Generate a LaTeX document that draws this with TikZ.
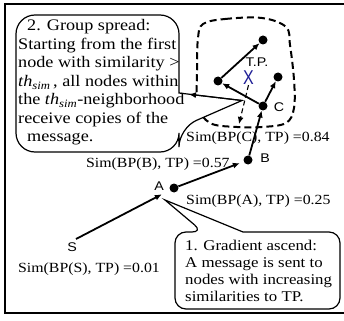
\documentclass[tikz,border=0pt]{standalone}
\usepackage{fontspec}
\setmainfont{Liberation Serif}[FakeStretch=1.13]
\newfontfamily\arial{Liberation Sans}[FakeStretch=1.13]
\newfontfamily\xfont{Liberation Sans}[FakeStretch=0.8]
\usetikzlibrary{arrows.meta}
\definecolor{tpblue}{RGB}{30,30,150}
\begin{document}
\begin{tikzpicture}[x=1pt,y=-1pt,
  dot/.style={circle,fill=black,inner sep=0pt,minimum size=9pt},
  arr/.style={line width=1.8pt,-{Latex[length=7pt,width=6pt]}},
  thinarr/.style={line width=1.1pt,-{Latex[length=7pt,width=6pt]}},
  lbl/.style={font=\arial\fontsize{12.6}{13}\selectfont,inner sep=0pt},
  sim/.style={font=\fontsize{14}{16}\selectfont,inner sep=0pt,anchor=base west},
  ctwo/.style={font=\fontsize{16.1}{18}\selectfont,inner sep=0pt,anchor=base west},
  cone/.style={font=\fontsize{14.9}{17}\selectfont,inner sep=0pt,anchor=base west},
  call/.style={line width=1.2pt},
  blob/.style={line width=2pt,dash pattern=on 7pt off 4pt}
]
\useasboundingbox (0,0) rectangle (344,320);
\clip (0,0) rectangle (344,320);
\fill[white] (0,0) rectangle (344,320);
\draw[line width=2pt] (5,3.7) rectangle (400,313);

% dashed neighborhood
\draw[blob] plot[smooth cycle,tension=0.6] coordinates {(203,24) (225,19) (262,18) (286,27) (290,45) (294,80) (294,108) (286,123) (262,127) (237,127) (210,123) (198,105) (197,70) (198,38)};

% callout 2
\draw[call,fill=white] (179,50) [rounded corners=19pt] -- (179,15) -- (16,15) -- (16,152) -- (179,152) -- (179,128) [sharp corners] -- (242,100.5) -- (179,93) -- cycle;
\coordinate (tip2) at (242,100.5);
\coordinate (lefthit) at (189,94.3);
\coordinate (bothit) at (239,124);

% callout 1
\draw[call,fill=white] (290,232) [rounded corners=11pt] -- (340,232) -- (340,309) -- (175,309) -- (175,232) -- (203,232) [sharp corners] -- (165,200) -- (243,232) -- cycle;

% nodes
\coordinate (S) at (76,239);
\node[dot] (A) at (174,188) {};
\node[dot] (B) at (248,160) {};
\node[dot] (C) at (263,106) {};
\node[dot] (L) at (218,81) {};
\node[dot] (T) at (263,40) {};
\node[dot] (R) at (278,77) {};
\node[text=tpblue,font=\xfont\fontsize{20}{20}\selectfont,inner sep=0pt] (X) at (248.5,78) {X};

% arrows
\draw[arr,shorten >=9pt] (S) -- (A);
\draw[arr,shorten >=4pt] (A) -- (B);
\draw[arr] (B) -- (C);
\draw[arr] (C) -- (L);
\draw[arr] (L) -- (T);
\draw[arr] (C) -- (R);
\draw[thinarr] (tip2) -- (lefthit);
\draw[thinarr,dashed,dash pattern=on 5pt off 3pt] (X.south) -- (bothit);

% sans labels
\node[lbl] (lS) at (72,247) {S};
\node[lbl] (lA) at (159,186) {A};
\node[lbl] (lB) at (265,158) {B};
\node[lbl] (lC) at (279,107) {C};
\node[lbl] (lTP) at (257,62) {T.P.};

% similarity labels
\node[sim] (sC) at (186,142) {Sim(BP(C), TP) =0.84};
\node[sim] (sB) at (86,167) {Sim(BP(B), TP) =0.57};
\node[sim] (sA) at (186,204) {Sim(BP(A), TP) =0.25};
\node[sim] (sS) at (18,272) {Sim(BP(S), TP) =0.01};

% callout 2 text
\node[ctwo] (t21) at (27,31) {2. Group spread:};
\node[ctwo] (t22) at (18,49.5) {Starting from the first};
\node[ctwo] (t23) at (18,68) {node with similarity >};
\node[ctwo] (t24) at (18,86.5) {\textit{th}\textsubscript{\textit{sim}}\,, all nodes within};
\node[ctwo] (t25) at (18,105) {the \textit{th}\textsubscript{\textit{sim}}-neighborhood};
\node[ctwo] (t26) at (18,123.5) {receive copies of the};
\node[ctwo] (t27) at (27,142) {message.};

% callout 1 text
\node[cone] (t11) at (185,250) {1. Gradient ascend:};
\node[cone] (t12) at (185,267) {A message is sent to};
\node[cone] (t13) at (185,284) {nodes with increasing};
\node[cone] (t14) at (185,301) {similarities to TP.};
\end{tikzpicture}
\end{document}
